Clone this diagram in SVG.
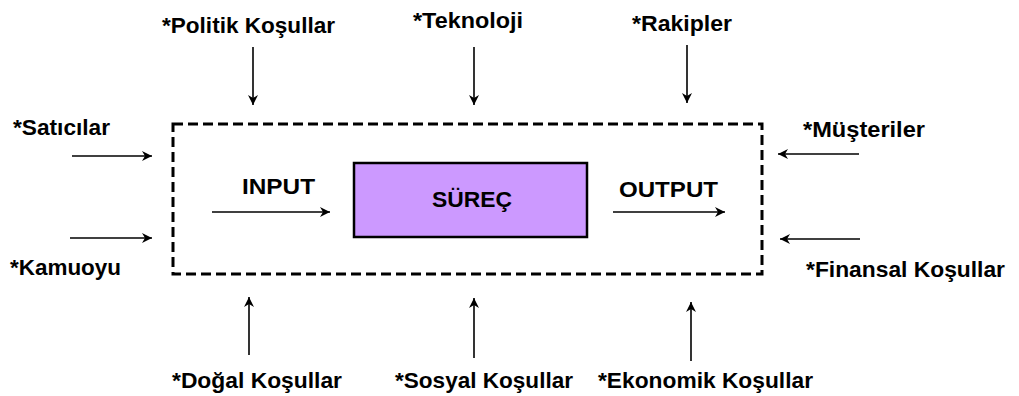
<svg xmlns="http://www.w3.org/2000/svg" width="1019" height="396" viewBox="0 0 1019 396">
<style>
.t{font-family:"Liberation Sans",Arial,sans-serif;font-weight:bold;font-size:22px;fill:#000}
.c{stroke:#000;stroke-width:1.6;fill:none;marker-end:url(#ah)}
</style>
<defs>
<marker id="ah" markerUnits="userSpaceOnUse" markerWidth="14" markerHeight="12" refX="11" refY="6" orient="auto">
<path d="M1,1 L11,6 L1,11 L4,6 z" fill="#000"/>
</marker>
</defs>
<rect width="1019" height="396" fill="#fff"/>
<g id="environment">
<rect x="173" y="124" width="589" height="150" fill="none" stroke="#000" stroke-width="3" stroke-dasharray="10,5"/>
</g>
<g id="surec">
<rect x="354" y="163" width="233" height="74" fill="#cc99ff" stroke="#000" stroke-width="2.5"/>
<text class="t" x="432" y="207" textLength="80" lengthAdjust="spacingAndGlyphs">SÜREÇ</text>
</g>
<g id="input"><text class="t" x="242" y="194" textLength="73" lengthAdjust="spacingAndGlyphs">INPUT</text></g>
<g id="output"><text class="t" x="619" y="197" textLength="99" lengthAdjust="spacingAndGlyphs">OUTPUT</text></g>
<g id="politik"><text class="t" x="162" y="33" textLength="173" lengthAdjust="spacingAndGlyphs">*Politik Koşullar</text></g>
<g id="teknoloji"><text class="t" x="413" y="28" textLength="110" lengthAdjust="spacingAndGlyphs">*Teknoloji</text></g>
<g id="rakipler"><text class="t" x="632" y="31" textLength="100" lengthAdjust="spacingAndGlyphs">*Rakipler</text></g>
<g id="saticilar"><text class="t" x="13" y="135" textLength="97" lengthAdjust="spacingAndGlyphs">*Satıcılar</text></g>
<g id="musteriler"><text class="t" x="803" y="137" textLength="122" lengthAdjust="spacingAndGlyphs">*Müşteriler</text></g>
<g id="kamuoyu"><text class="t" x="10" y="275" textLength="111" lengthAdjust="spacingAndGlyphs">*Kamuoyu</text></g>
<g id="finansal"><text class="t" x="806" y="277" textLength="199" lengthAdjust="spacingAndGlyphs">*Finansal Koşullar</text></g>
<g id="dogal"><text class="t" x="172" y="388" textLength="170" lengthAdjust="spacingAndGlyphs">*Doğal Koşullar</text></g>
<g id="sosyal"><text class="t" x="395" y="388" textLength="178" lengthAdjust="spacingAndGlyphs">*Sosyal Koşullar</text></g>
<g id="ekonomik"><text class="t" x="598" y="388" textLength="215" lengthAdjust="spacingAndGlyphs">*Ekonomik Koşullar</text></g>
<g id="connectors">
<line class="c" x1="253" y1="47" x2="253" y2="105"/>
<line class="c" x1="474" y1="47" x2="474" y2="105"/>
<line class="c" x1="687" y1="45" x2="687" y2="103"/>
<line class="c" x1="72" y1="156" x2="152" y2="156"/>
<line class="c" x1="70" y1="238" x2="152" y2="238"/>
<line class="c" x1="212" y1="212" x2="330" y2="212"/>
<line class="c" x1="613" y1="212" x2="725" y2="212"/>
<line class="c" x1="859" y1="154" x2="778" y2="154"/>
<line class="c" x1="860" y1="239" x2="780" y2="239"/>
<line class="c" x1="249" y1="355" x2="249" y2="297"/>
<line class="c" x1="474" y1="358" x2="474" y2="298"/>
<line class="c" x1="691" y1="361" x2="691" y2="302"/>
</g>
</svg>
